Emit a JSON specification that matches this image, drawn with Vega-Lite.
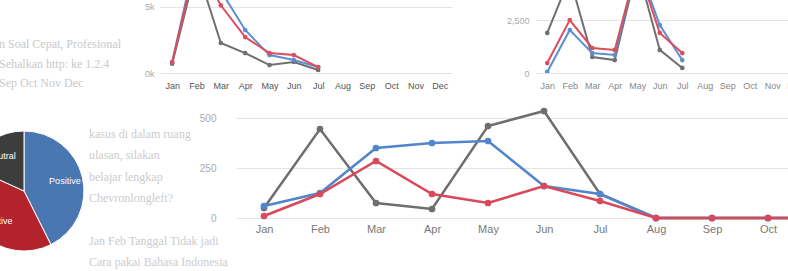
{
  "$schema": "https://vega.github.io/schema/vega-lite/v6.json",
  "background": "white",
  "padding": {"left": -38, "top": 0, "right": 0, "bottom": 0},
  "bounds": "flush",
  "spacing": 108,
  "resolve": {"scale": {"color": "independent"}},
  "config": {
    "view": {"stroke": null},
    "font": "Liberation Sans",
    "axis": {"domain": false, "ticks": false, "title": null, "labelColor": "#777", "gridColor": "#e4e4e4", "labelFont": "Liberation Sans"}
  },
  "datasets": {
    "txt1": [
      {"t": "n Soal Cepat, Profesional", "line": 1},
      {"t": "Sehalkan http: ke 1.2.4", "line": 2},
      {"t": "Sep Oct Nov Dec", "line": 3}
    ],
    "txt2": [
      {"t": "kasus di dalam ruang", "line": 1},
      {"t": "ulasan, silakan", "line": 2},
      {"t": "belajar lengkap", "line": 3},
      {"t": "  Chevronlongleft?", "line": 4},
      {"t": "Jan Feb Tanggal Tidak jadi", "line": 6},
      {"t": "Cara pakai Bahasa Indonesia", "line": 7}
    ],
    "tl": [
      {"m": "Jan", "s": "Neutral", "v": 700}, {"m": "Feb", "s": "Neutral", "v": 8000}, {"m": "Mar", "s": "Neutral", "v": 2260}, {"m": "Apr", "s": "Neutral", "v": 1500}, {"m": "May", "s": "Neutral", "v": 600}, {"m": "Jun", "s": "Neutral", "v": 830}, {"m": "Jul", "s": "Neutral", "v": 230},
      {"m": "Jan", "s": "Positive", "v": 830}, {"m": "Feb", "s": "Positive", "v": 9000}, {"m": "Mar", "s": "Positive", "v": 6200}, {"m": "Apr", "s": "Positive", "v": 3240}, {"m": "May", "s": "Positive", "v": 1350}, {"m": "Jun", "s": "Positive", "v": 980}, {"m": "Jul", "s": "Positive", "v": 450},
      {"m": "Jan", "s": "Negative", "v": 830}, {"m": "Feb", "s": "Negative", "v": 8500}, {"m": "Mar", "s": "Negative", "v": 5100}, {"m": "Apr", "s": "Negative", "v": 2710}, {"m": "May", "s": "Negative", "v": 1500}, {"m": "Jun", "s": "Negative", "v": 1350}, {"m": "Jul", "s": "Negative", "v": 450}
    ],
    "tr": [
      {"m": "Jan", "s": "Neutral", "v": 1890}, {"m": "Feb", "s": "Neutral", "v": 4500}, {"m": "Mar", "s": "Neutral", "v": 755}, {"m": "Apr", "s": "Neutral", "v": 610}, {"m": "May", "s": "Neutral", "v": 5000}, {"m": "Jun", "s": "Neutral", "v": 1090}, {"m": "Jul", "s": "Neutral", "v": 240},
      {"m": "Jan", "s": "Positive", "v": 50}, {"m": "Feb", "s": "Positive", "v": 2030}, {"m": "Mar", "s": "Positive", "v": 940}, {"m": "Apr", "s": "Positive", "v": 850}, {"m": "May", "s": "Positive", "v": 5200}, {"m": "Jun", "s": "Positive", "v": 2260}, {"m": "Jul", "s": "Positive", "v": 610},
      {"m": "Jan", "s": "Negative", "v": 470}, {"m": "Feb", "s": "Negative", "v": 2500}, {"m": "Mar", "s": "Negative", "v": 1180}, {"m": "Apr", "s": "Negative", "v": 1090}, {"m": "May", "s": "Negative", "v": 5100}, {"m": "Jun", "s": "Negative", "v": 1890}, {"m": "Jul", "s": "Negative", "v": 940}
    ],
    "bt": [
      {"m": "Jan", "s": "Neutral", "v": 50}, {"m": "Feb", "s": "Neutral", "v": 445}, {"m": "Mar", "s": "Neutral", "v": 75}, {"m": "Apr", "s": "Neutral", "v": 45}, {"m": "May", "s": "Neutral", "v": 460}, {"m": "Jun", "s": "Neutral", "v": 535}, {"m": "Jul", "s": "Neutral", "v": 120}, {"m": "Aug", "s": "Neutral", "v": 0}, {"m": "Sep", "s": "Neutral", "v": 0}, {"m": "Oct", "s": "Neutral", "v": 0}, {"m": "Nov", "s": "Neutral", "v": 0}, {"m": "Dec", "s": "Neutral", "v": 0},
      {"m": "Jan", "s": "Positive", "v": 60}, {"m": "Feb", "s": "Positive", "v": 125}, {"m": "Mar", "s": "Positive", "v": 350}, {"m": "Apr", "s": "Positive", "v": 375}, {"m": "May", "s": "Positive", "v": 385}, {"m": "Jun", "s": "Positive", "v": 160}, {"m": "Jul", "s": "Positive", "v": 120}, {"m": "Aug", "s": "Positive", "v": 0}, {"m": "Sep", "s": "Positive", "v": 0}, {"m": "Oct", "s": "Positive", "v": 0}, {"m": "Nov", "s": "Positive", "v": 0}, {"m": "Dec", "s": "Positive", "v": 0},
      {"m": "Jan", "s": "Negative", "v": 10}, {"m": "Feb", "s": "Negative", "v": 120}, {"m": "Mar", "s": "Negative", "v": 285}, {"m": "Apr", "s": "Negative", "v": 120}, {"m": "May", "s": "Negative", "v": 75}, {"m": "Jun", "s": "Negative", "v": 160}, {"m": "Jul", "s": "Negative", "v": 85}, {"m": "Aug", "s": "Negative", "v": 0}, {"m": "Sep", "s": "Negative", "v": 0}, {"m": "Oct", "s": "Negative", "v": 0}, {"m": "Nov", "s": "Negative", "v": 0}, {"m": "Dec", "s": "Negative", "v": 0}
    ],
    "pie": [
      {"s": "Positive", "v": 42.6, "o": 1},
      {"s": "Negative", "v": 39.2, "o": 2},
      {"s": "Neutral", "v": 18.2, "o": 3}
    ]
  },
  "vconcat": [
    {
      "bounds": "flush",
      "spacing": 84,
      "resolve": {"scale": {"color": "independent", "y": "independent"}, "axis": {"y": "independent"}},
      "hconcat": [
        {
          "width": 77, "height": 73,
          "data": {"name": "txt1"},
          "mark": {"type": "text", "align": "left", "font": "Liberation Serif", "fontSize": 12, "color": "#c9c9c9"},
          "encoding": {
            "x": {"datum": 0, "type": "quantitative", "scale": {"domain": [0, 1]}, "axis": null},
            "y": {"field": "line", "type": "quantitative", "scale": {"domain": [-1.256, 2.487], "reverse": true, "nice": false, "zero": false}, "axis": null},
            "text": {"field": "t"}
          }
        },
        {
          "width": 292, "height": 73,
          "data": {"name": "tl"},
          "encoding": {
            "x": {"field": "m", "type": "ordinal", "sort": null, "scale": {"domain": ["Jan","Feb","Mar","Apr","May","Jun","Jul","Aug","Sep","Oct","Nov","Dec"]}, "axis": {"labelAngle": 0, "labelFontSize": 9, "labelPadding": 8, "labelColor": "#555", "grid": false}},
            "y": {"field": "v", "type": "quantitative", "scale": {"domain": [0, 5500], "nice": false}, "axis": {"values": [0, 5000], "labelExpr": "datum.value / 1000 + 'k'", "labelFontSize": 9, "labelPadding": 6, "labelColor": "#aaa"}},
            "color": {"field": "s", "type": "nominal", "scale": {"domain": ["Neutral", "Positive", "Negative"], "range": ["#707070", "#5b8fd0", "#dc4d5e"]}, "legend": null}
          },
          "layer": [
            {"mark": {"type": "line", "clip": true, "strokeWidth": 2}},
            {"mark": {"type": "point", "filled": true, "clip": true, "size": 22, "opacity": 1}}
          ]
        },
        {
          "width": 270, "height": 73,
          "data": {"name": "tr"},
          "encoding": {
            "x": {"field": "m", "type": "ordinal", "sort": null, "scale": {"domain": ["Jan","Feb","Mar","Apr","May","Jun","Jul","Aug","Sep","Oct","Nov","Dec"]}, "axis": {"labelAngle": 0, "labelFontSize": 9, "labelPadding": 8, "labelColor": "#888", "grid": false}},
            "y": {"field": "v", "type": "quantitative", "scale": {"domain": [0, 3445], "nice": false}, "axis": {"values": [0, 2500], "labelExpr": "datum.value == 0 ? '0' : '2,500'", "labelFontSize": 9, "labelPadding": 7, "labelColor": "#aaa"}},
            "color": {"field": "s", "type": "nominal", "scale": {"domain": ["Neutral", "Positive", "Negative"], "range": ["#707070", "#5b8fd0", "#dc4d5e"]}, "legend": null}
          },
          "layer": [
            {"mark": {"type": "line", "clip": true, "strokeWidth": 2}},
            {"mark": {"type": "point", "filled": true, "clip": true, "size": 22, "opacity": 1}}
          ]
        }
      ]
    },
    {
      "bounds": "flush",
      "spacing": 40,
      "resolve": {"scale": {"color": "independent"}},
      "hconcat": [
        {
          "width": 50, "height": 166,
          "data": {"name": "pie"},
          "encoding": {
            "theta": {"field": "v", "type": "quantitative", "stack": true},
            "order": {"field": "o", "type": "quantitative"},
            "color": {"field": "s", "type": "nominal", "scale": {"domain": ["Positive", "Negative", "Neutral"], "range": ["#4a76b2", "#b3232b", "#3d3d3d"]}, "legend": null}
          },
          "layer": [
            {"mark": {"type": "arc", "radius": 60, "stroke": "#ffffff", "strokeWidth": 1}},
            {"mark": {"type": "text", "radius": 42, "fill": "#ffffff", "fontSize": 9}, "encoding": {"text": {"field": "s"}, "color": {"value": "#ffffff"}}}
          ]
        },
        {
          "width": 107, "height": 166,
          "data": {"name": "txt2"},
          "mark": {"type": "text", "align": "left", "font": "Liberation Serif", "fontSize": 12, "color": "#cccccc"},
          "encoding": {
            "x": {"datum": 0, "type": "quantitative", "scale": {"domain": [0, 1]}, "axis": null},
            "y": {"field": "line", "type": "quantitative", "scale": {"domain": [-0.22, 7.57], "reverse": true, "nice": false, "zero": false}, "axis": null},
            "text": {"field": "t"}
          }
        },
        {
          "width": 672, "height": 110,
          "data": {"name": "bt"},
          "encoding": {
            "x": {"field": "m", "type": "ordinal", "sort": null, "scale": {"domain": ["Jan","Feb","Mar","Apr","May","Jun","Jul","Aug","Sep","Oct","Nov","Dec"]}, "axis": {"labelAngle": 0, "labelFontSize": 11, "labelPadding": 5, "labelColor": "#777", "grid": false}},
            "y": {"field": "v", "type": "quantitative", "scale": {"domain": [0, 550], "nice": false}, "axis": {"values": [0, 250, 500], "labelFontSize": 10, "labelPadding": 20, "labelColor": "#aaa"}},
            "color": {"field": "s", "type": "nominal", "scale": {"domain": ["Neutral", "Positive", "Negative"], "range": ["#6e6e6e", "#4f86cc", "#d9495a"]}, "legend": null}
          },
          "layer": [
            {"mark": {"type": "line", "strokeWidth": 2.5}},
            {"mark": {"type": "point", "filled": true, "size": 45, "opacity": 1}}
          ]
        }
      ]
    }
  ]
}
